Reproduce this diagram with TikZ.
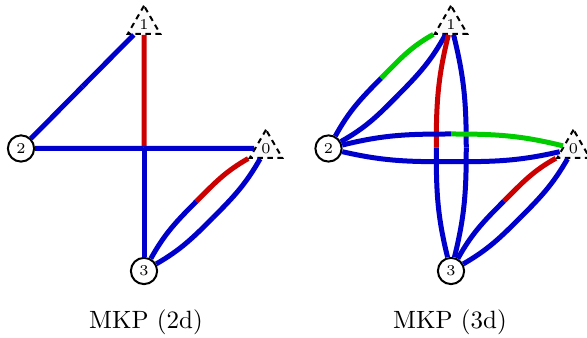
\documentclass[tikz,border=0pt]{standalone}
\usetikzlibrary{calc,shapes.geometric}
\definecolor{eblue}{RGB}{0,0,204}
\definecolor{ered}{RGB}{204,0,0}
\definecolor{egreen}{RGB}{0,204,0}
\tikzset{
  circnode/.style={circle,draw,thick,fill=white,minimum size=10.5pt,inner sep=0pt,font=\fontsize{6}{7}\selectfont},
  trinode/.style={regular polygon,regular polygon sides=3,draw,thick,dash pattern=on 2.2pt off 1.8pt,fill=gray!4,minimum size=15pt,inner sep=0pt,font=\fontsize{6}{7}\selectfont},
  edgeline/.style={line width=2pt},
  caption/.style={font=\normalsize}
}
% #1 from, #2 to, #3 midpoint name, #4 offset (pt, + = left of travel),
% #5 end tangent deviation (deg, + = bulge left), #6 colour near from, #7 colour near to
\newcommand\halfedge[7]{%
  \coordinate (#3) at ($(#1)!0.5!(#2)!#4!90:(#2)$);
  \draw[edgeline,#6] let \p1=(#1), \p2=(#2),
      \n1={atan2(\y2-\y1,\x2-\x1)}, \n2={\n1+(#5)}, \n3={\n1+180} in
      (#1) to[out=\n2, in=\n3] (#3);
  \draw[edgeline,#7] let \p1=(#1), \p2=(#2),
      \n1={atan2(\y2-\y1,\x2-\x1)}, \n4={\n1-(#5)+180} in
      (#3) to[out=\n1, in=\n4] (#2);
}
\begin{document}
\begin{tikzpicture}[x=0.4pt,y=0.4pt]
\useasboundingbox (0,0) rectangle (587,-338);
% left panel nodes
\node[trinode] (L1) at (144,-24.5) {1};
\node[circnode] (L2) at (21,-148.5) {2};
\node[trinode] (L0) at (266,-148.5) {0};
\node[circnode] (L3) at (144,-271) {3};
% right panel nodes
\node[trinode] (R1) at (451,-24.5) {1};
\node[circnode] (R2) at (328.5,-148.5) {2};
\node[trinode] (R0) at (573.5,-148.5) {0};
\node[circnode] (R3) at (451,-271) {3};
% left edges
\halfedge{L2}{L1}{mL21}{0pt}{0}{eblue}{eblue}
\halfedge{L1}{L3}{mL13}{0pt}{0}{ered}{eblue}
\halfedge{L2}{L0}{mL20}{0pt}{0}{eblue}{eblue}
\halfedge{L0}{L3}{mL03a}{-4.8pt}{-16}{ered}{eblue}
\halfedge{L0}{L3}{mL03b}{4.5pt}{15}{eblue}{eblue}
% right edges
\halfedge{R2}{R1}{mR21a}{4.8pt}{16}{eblue}{egreen}
\halfedge{R2}{R1}{mR21b}{-4.8pt}{-16}{eblue}{eblue}
\halfedge{R1}{R3}{mR13a}{-5.9pt}{-14}{ered}{eblue}
\halfedge{R1}{R3}{mR13b}{6.1pt}{14}{eblue}{eblue}
\halfedge{R2}{R0}{mR20a}{5.8pt}{14}{eblue}{egreen}
\halfedge{R2}{R0}{mR20b}{-5.3pt}{-13}{eblue}{eblue}
\halfedge{R0}{R3}{mR03a}{-4.8pt}{-16}{ered}{eblue}
\halfedge{R0}{R3}{mR03b}{4.5pt}{15}{eblue}{eblue}
% captions
\node[caption] (capL) at (146,-322) {MKP (2d)};
\node[caption] (capR) at (450,-322) {MKP (3d)};
\end{tikzpicture}
\end{document}
